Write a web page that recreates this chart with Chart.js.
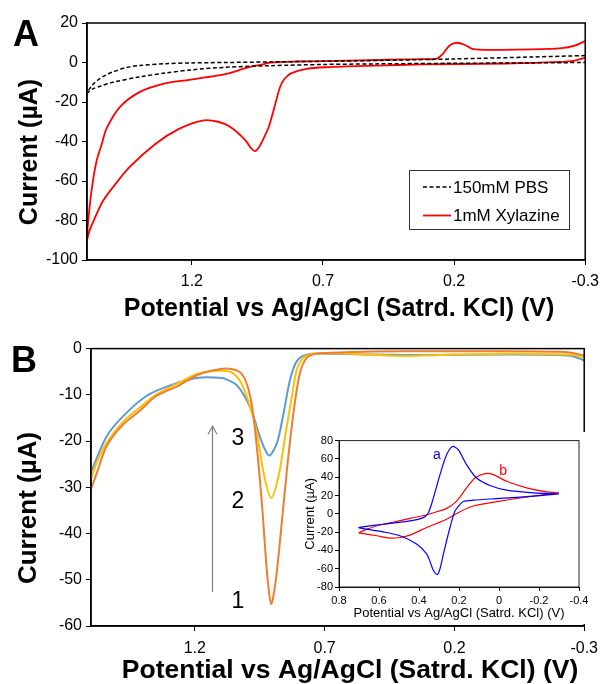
<!DOCTYPE html>
<html>
<head>
<meta charset="utf-8">
<title>Xylazine voltammetry</title>
<script src="https://cdn.jsdelivr.net/npm/chart.js@4.4.1/dist/chart.umd.min.js"></script>
<style>
  html, body { margin: 0; padding: 0; background: #fff; }
  #wrap { position: relative; width: 606px; height: 684px; overflow: hidden; background: #fff; }
  canvas { position: absolute; }
  #cvA { left: 0; top: 0; }
  #cvB { left: 0; top: 335px; }
  #inset { left: 296px; top: 432px; background: #fff; }
</style>
</head>
<body>
<div id="wrap">
  <canvas id="cvA" width="606" height="335"></canvas>
  <canvas id="cvB" width="606" height="349"></canvas>
  <canvas id="inset" width="298" height="192"></canvas>
</div>
<script>
// ---- Panel A: CV of PBS blank vs 1mM xylazine ----
const aXTicks = [1.2, 0.7, 0.2, -0.3];
const aYTicks = [20, 0, -20, -40, -60, -80, -100];

const pbsPotential = [-0.3, -0.1, 0.2, 0.5, 0.7, 0.9, 1.07, 1.2, 1.3, 1.4, 1.45, 1.5, 1.53, 1.56, 1.58, 1.6,
                      1.58, 1.55, 1.5, 1.4, 1.3, 1.2, 1.07, 0.9, 0.7, 0.5, 0.2, -0.1, -0.3];
const pbsCurrent = [3.5, 2.8, 1.8, 1.0, 0.6, 0.3, 0.0, -0.2, -0.6, -1.5, -2.5, -4.7, -6.5, -9, -11.5, -15.5,
                    -13.5, -12, -10, -7.3, -5.3, -3.7, -2.4, -1.6, -1.0, -0.7, -0.4, -0.2, 0.0];

const xylPotential = [-0.3, -0.26, -0.21, -0.1, 0.05, 0.13, 0.16, 0.19, 0.21, 0.224, 0.243, 0.268, 0.32, 0.45, 0.6,
                      0.8, 0.9, 0.93, 0.97, 1.0, 1.06, 1.11, 1.21, 1.31, 1.4, 1.475, 1.526, 1.543, 1.563, 1.577, 1.59, 1.6,
                      1.59, 1.563, 1.538, 1.5, 1.438, 1.337, 1.249, 1.16, 1.1, 1.053, 0.995, 0.975, 0.958, 0.942, 0.925,
                      0.907, 0.885, 0.864, 0.845, 0.82, 0.762, 0.688, 0.5, 0.324, 0.0, -0.2, -0.26, -0.3];
const xylCurrent = [10.8, 8.6, 7.3, 6.6, 6.4, 6.9, 9.0, 10, 9.2, 7.7, 4.4, 1.9, 1.7, 1.4, 0.9,
                    0.5, 0, -1, -2, -3, -5.5, -6.8, -8.8, -10.8, -15, -22.6, -33.6, -41, -49.6, -59.7, -73, -89.6,
                    -85, -76.6, -69.9, -63, -53, -41, -33.6, -29.4, -30, -32.7, -39.5, -43.3, -44.9, -42.5, -38,
                    -32.7, -22.5, -12.5, -8, -5.4, -3.2, -2.4, -1.6, -1.0, -0.5, 0.3, 1.0, 2.4];

// ---- Panel B: repeated scans 1-3 ----
const bXTicks = [1.2, 0.7, 0.2, -0.3];
const bYTicks = [0, -10, -20, -30, -40, -50, -60];

const scan1Potential = [1.6, 1.577, 1.539, 1.476, 1.413, 1.35, 1.262, 1.186, 1.11, 1.06, 1.022, 0.997, 0.978, 0.959, 0.94,
                        0.921, 0.906, 0.889, 0.87, 0.845, 0.82, 0.795, 0.769, 0.731, 0.618, 0.4, 0.0, -0.2, -0.25, -0.3];
const scan1Current = [-30.4, -26.8, -21, -16.4, -13.5, -10.3, -8, -5.6, -4.5, -4.4, -5.3, -8.1, -13.1, -22.5, -34.7,
                      -49, -55.2, -50.5, -40.5, -26.1, -13.9, -5.3, -2, -1.1, -0.8, -0.6, -0.6, -0.7, -0.9, -1.5];

const scan2Potential = [1.6, 1.577, 1.539, 1.476, 1.413, 1.35, 1.262, 1.186, 1.11, 1.06, 1.022, 0.984, 0.959, 0.933,
                        0.906, 0.877, 0.852, 0.826, 0.807, 0.782, 0.744, 0.6, 0.4, 0.2, 0.0, -0.2, -0.26, -0.3];
const scan2Current = [-28.2, -24.5, -20.3, -15.8, -12.8, -10, -7.4, -5.4, -4.8, -5.1, -7.4, -13.1, -18.9, -27.5,
                      -32.3, -27.5, -18.9, -10.3, -4.5, -2, -1.1, -1.1, -1.6, -1.3, -1.1, -1.2, -1.4, -1.9];

const scan3Potential = [1.6, 1.539, 1.476, 1.388, 1.287, 1.186, 1.11, 1.085, 1.035, 0.984, 0.946, 0.914, 0.883,
                        0.858, 0.833, 0.807, 0.769, 0.681, 0.5, 0.3, 0.0, -0.2, -0.26, -0.3];
const scan3Current = [-26.7, -18.9, -14.6, -10.3, -7.8, -6.3, -6.3, -6.5, -8.1, -13.1, -19.6, -23.1, -20.3,
                      -13.9, -6.7, -2.7, -1.3, -1.1, -1.3, -1.4, -1.3, -1.4, -1.7, -2.6];

// scan number labels and the trend arrow (potential / current)
const scanLabels = ['1', '2', '3'];
const scanLabelPotential = 1.034;
const scanLabelCurrent = [-54.5, -32.8, -19.25];
const arrowPotential = 1.134;
const arrowCurrent = [-52.6, -16.8];

// ---- Inset: CV traces a and b ----
const insetXTicks = [0.8, 0.6, 0.4, 0.2, 0, -0.2, -0.4];
const insetYTicks = [80, 60, 40, 20, 0, -20, -40, -60, -80];

const cvAPotential = [-0.3, -0.172, -0.005, 0.128, 0.178, 0.195, 0.22, 0.245, 0.278, 0.295, 0.308, 0.328, 0.345,
                      0.362, 0.412, 0.495, 0.578, 0.662, 0.7,
                      0.578, 0.445, 0.378, 0.353, 0.328, 0.295, 0.262, 0.232, 0.203, 0.162, 0.112, 0.045, -0.038, -0.172, -0.3];
const cvACurrent = [21.8, 19.3, 16.8, 14.9, 13.5, 10.3, 3, -15, -43.9, -60, -66.3, -62, -52,
                    -43.9, -33, -24, -19.7, -16.8, -15,
                    -11.4, -7.8, -4.2, 1.2, 17.4, 42.8, 64.5, 73.5, 69.9, 53.6, 39.1, 30.9, 25.8, 22.9, 21.8];

const cvBPotential = [-0.3, -0.172, -0.005, 0.128, 0.195, 0.262, 0.362, 0.445, 0.495, 0.545, 0.612, 0.678, 0.7,
                      0.65, 0.6, 0.5, 0.445, 0.36, 0.328, 0.262, 0.212, 0.162, 0.12, 0.07, 0.028, -0.038, -0.138, -0.238, -0.3];
const cvBCurrent = [23, 19.3, 13.9, 8.5, 2.3, -6, -15, -23.3, -25.9, -26.5, -24, -21.6, -20.8,
                    -16, -12.5, -7.8, -5, -1, 1.2, 5.9, 13.9, 28.3, 39.1, 43.9, 42.8, 35.5, 28.3, 24, 23];

const traceLabels = ['a', 'b'];
const traceLabelPotential = [0.311, -0.021];
const traceLabelCurrent = [64.5, 46.4];

const FONT = '"Liberation Sans", Arial, sans-serif';
const X_TITLE = 'Potential vs Ag/AgCl (Satrd. KCl) (V)';
Chart.defaults.font.family = FONT;
Chart.defaults.color = '#000';

const pts = (xs, ys) => xs.map((x, i) => ({ x, y: ys[i] }));
const fmt = v => String(v);

// draws the box around the plot area (top and right edges included)
const frame = {
  id: 'frame',
  afterDatasetsDraw(chart, args, opts) {
    const { ctx, chartArea: a } = chart;
    ctx.save();
    ctx.strokeStyle = opts.color;
    ctx.lineWidth = opts.width;
    ctx.strokeRect(a.left, a.top, a.right - a.left, a.bottom - a.top);
    ctx.restore();
  }
};

function text(ctx, str, x, y, font, rotate) {
  ctx.save();
  ctx.translate(x, y);
  if (rotate) ctx.rotate(-Math.PI / 2);
  ctx.font = font;
  ctx.fillStyle = '#000';
  ctx.textAlign = 'center';
  ctx.textBaseline = 'middle';
  ctx.fillText(str, 0, 0);
  ctx.restore();
}

function panelLetter(ctx, letter, x, y) {
  ctx.save();
  ctx.font = 'bold 36px ' + FONT;
  ctx.fillStyle = '#000';
  ctx.textBaseline = 'alphabetic';
  ctx.fillText(letter, x, y);
  ctx.restore();
}

function xAxis(ticks, min, max, size, pad, height, title) {
  return {
    type: 'linear', reverse: true, min, max,
    afterBuildTicks: s => { s.ticks = ticks.map(v => ({ value: v })); },
    afterFit: s => { s.height = height; },
    ticks: { font: { size }, padding: pad, maxRotation: 0, autoSkip: false, callback: fmt },
    grid: { drawOnChartArea: false, color: '#000', tickLength: 5 },
    border: { color: '#000', width: 1.5 },
    title: title || { display: false }
  };
}

function yAxis(ticks, min, max, size, width, title) {
  return {
    min, max,
    afterBuildTicks: s => { s.ticks = ticks.map(v => ({ value: v })); },
    afterFit: s => { s.width = width; },
    ticks: { font: { size }, padding: 4, callback: fmt },
    grid: { drawOnChartArea: false, color: '#000', tickLength: 5 },
    border: { color: '#000', width: 1.5 },
    title: title || { display: false }
  };
}

// ---- chart A ----
const panelAExtras = {
  id: 'panelAExtras',
  afterDraw(chart) {
    const { ctx } = chart;
    panelLetter(ctx, 'A', 13, 46);
    text(ctx, 'Current (µA)', 30, 152, 'bold 25px ' + FONT, true);
    text(ctx, X_TITLE, 339, 309, 'bold 25px ' + FONT);

    // legend box
    ctx.save();
    ctx.fillStyle = '#fff';
    ctx.fillRect(409, 170, 160, 59);
    ctx.strokeStyle = '#333';
    ctx.lineWidth = 1;
    ctx.strokeRect(409.5, 170.5, 160, 59);
    ctx.font = '17px ' + FONT;
    ctx.textBaseline = 'middle';
    chart.data.datasets.forEach((ds, i) => {
      const y = 187 + i * 28.5;
      ctx.strokeStyle = ds.borderColor;
      ctx.lineWidth = ds.borderWidth;
      ctx.setLineDash(ds.borderDash || []);
      ctx.beginPath();
      ctx.moveTo(423, y);
      ctx.lineTo(451, y);
      ctx.stroke();
      ctx.setLineDash([]);
      ctx.fillStyle = '#000';
      ctx.fillText(ds.label, 453, y + 1);
    });
    ctx.restore();
  }
};

new Chart(document.getElementById('cvA'), {
  type: 'scatter',
  data: {
    datasets: [
      { label: '150mM PBS', data: pts(pbsPotential, pbsCurrent), showLine: true, borderColor: '#000',
        borderWidth: 1.5, borderDash: [4, 2.5], pointRadius: 0, tension: 0.3 },
      { label: '1mM Xylazine', data: pts(xylPotential, xylCurrent), showLine: true, borderColor: '#ff0000',
        borderWidth: 1.8, pointRadius: 0, tension: 0.3 }
    ]
  },
  options: {
    responsive: false, animation: false, events: [],
    layout: { padding: { top: 23, right: 15, left: 0, bottom: 0 } },
    plugins: { legend: { display: false }, tooltip: { enabled: false }, frame: { color: '#000', width: 1.5 } },
    scales: {
      x: xAxis(aXTicks, -0.3, 1.6, 16, 7, 75),
      y: yAxis(aYTicks, -100, 20, 16, 87)
    }
  },
  plugins: [frame, panelAExtras]
});

// ---- chart B ----
const panelBExtras = {
  id: 'panelBExtras',
  afterDraw(chart) {
    const { ctx, scales: { x, y } } = chart;
    panelLetter(ctx, 'B', 11, 37);
    text(ctx, 'Current (µA)', 29, 173, 'bold 26px ' + FONT, true);
    text(ctx, X_TITLE, 350, 336, 'bold 26.5px ' + FONT);

    ctx.save();
    // arrow showing the trend from scan 1 to scan 3
    const ax = Math.round(x.getPixelForValue(arrowPotential)) + 0.5;
    const ay0 = y.getPixelForValue(arrowCurrent[0]);
    const ay1 = y.getPixelForValue(arrowCurrent[1]);
    ctx.strokeStyle = '#7f7f7f';
    ctx.lineWidth = 1.2;
    ctx.beginPath();
    ctx.moveTo(ax, ay0);
    ctx.lineTo(ax, ay1);
    ctx.stroke();
    ctx.beginPath();
    ctx.moveTo(ax - 4.5, ay1 + 8);
    ctx.lineTo(ax, ay1);
    ctx.lineTo(ax + 4.5, ay1 + 8);
    ctx.stroke();
    ctx.restore();

    scanLabels.forEach((t, i) => {
      text(ctx, t, x.getPixelForValue(scanLabelPotential), y.getPixelForValue(scanLabelCurrent[i]) + 1, '23px ' + FONT);
    });
  }
};

new Chart(document.getElementById('cvB'), {
  type: 'scatter',
  data: {
    datasets: [
      { label: '1', data: pts(scan1Potential, scan1Current), showLine: true, borderColor: '#ed7d31',
        borderWidth: 2, pointRadius: 0, tension: 0.3 },
      { label: '2', data: pts(scan2Potential, scan2Current), showLine: true, borderColor: '#ffc000',
        borderWidth: 2, pointRadius: 0, tension: 0.3 },
      { label: '3', data: pts(scan3Potential, scan3Current), showLine: true, borderColor: '#5b9bd5',
        borderWidth: 2, pointRadius: 0, tension: 0.3 }
    ]
  },
  options: {
    responsive: false, animation: false, events: [],
    layout: { padding: { top: 12, right: 15, left: 0, bottom: 0 } },
    plugins: { legend: { display: false }, tooltip: { enabled: false }, frame: { color: '#000', width: 1.5 } },
    scales: {
      x: xAxis(bXTicks, -0.3, 1.6, 16, 8, 58),
      y: yAxis(bYTicks, -60, 0, 16, 91)
    }
  },
  plugins: [frame, panelBExtras]
});

// ---- inset ----
const insetExtras = {
  id: 'insetExtras',
  afterDraw(chart) {
    const { ctx, scales: { x, y } } = chart;
    ctx.save();
    ctx.font = '14px ' + FONT;
    ctx.textAlign = 'center';
    ctx.textBaseline = 'middle';
    traceLabels.forEach((t, i) => {
      ctx.fillStyle = chart.data.datasets[i].borderColor;
      ctx.fillText(t, x.getPixelForValue(traceLabelPotential[i]), y.getPixelForValue(traceLabelCurrent[i]));
    });
    ctx.restore();
  }
};

const insetX = xAxis(insetXTicks, -0.4, 0.8, 11, 3, 37, {
  display: true, text: X_TITLE, font: { size: 13, lineHeight: 1 }, padding: { top: 0, bottom: 4 }
});
insetX.grid.tickLength = 4;
insetX.border.width = 1;
const insetY = yAxis(insetYTicks, -80, 80, 11, 43, {
  display: true, text: 'Current (µA)', font: { size: 13, lineHeight: 1 }, padding: { top: 7.5, bottom: 0 }
});
insetY.grid.tickLength = 4;
insetY.border.width = 1;
insetY.ticks.padding = 2;

new Chart(document.getElementById('inset'), {
  type: 'scatter',
  data: {
    datasets: [
      { label: 'a', data: pts(cvAPotential, cvACurrent), showLine: true, borderColor: '#0000ff',
        borderWidth: 1.2, pointRadius: 0, tension: 0.3 },
      { label: 'b', data: pts(cvBPotential, cvBCurrent), showLine: true, borderColor: '#ff0000',
        borderWidth: 1.2, pointRadius: 0, tension: 0.3 }
    ]
  },
  options: {
    responsive: false, animation: false, events: [],
    layout: { padding: { top: 7, right: 15, left: 0, bottom: 0 } },
    plugins: { legend: { display: false }, tooltip: { enabled: false }, frame: { color: '#222', width: 1 } },
    scales: { x: insetX, y: insetY }
  },
  plugins: [frame, insetExtras]
});
</script>
</body>
</html>
